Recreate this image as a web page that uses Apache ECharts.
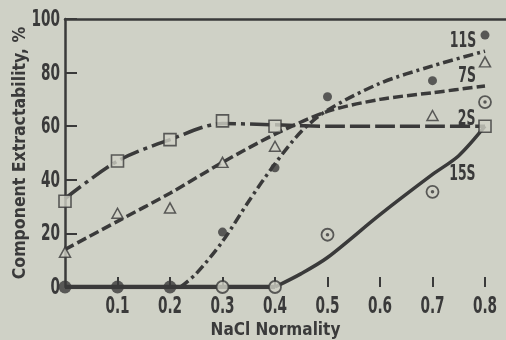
<!DOCTYPE html>
<html><head><meta charset="utf-8">
<script src="https://cdn.jsdelivr.net/npm/echarts@6/dist/echarts.min.js"></script>
<style>html,body{margin:0;padding:0;background:#cfd1c6}#c{width:506px;height:340px}</style>
</head><body><div id="c"></div>
<script>
// Tick labels
const xTicks = [0.1, 0.2, 0.3, 0.4, 0.5, 0.6, 0.7, 0.8];
const xTickLabels = ['0.1', '0.2', '0.3', '0.4', '0.5', '0.6', '0.7', '0.8'];
const yTicks = [0, 20, 40, 60, 80, 100];
const yTickLabels = ['0', '20', '40', '60', '80', '100'];

// Fitted curves  [NaCl normality, extractability %]
const curve2S_a = [[0, 33], [0.1, 47], [0.2, 55], [0.3, 61], [0.4, 60.5]];
const curve2S_b = [[0.4, 60.5], [0.5, 60], [0.6, 60], [0.7, 60], [0.8, 60]];
const curve7S = [[0, 14], [0.1, 24.5], [0.2, 35], [0.3, 46.5], [0.4, 57], [0.5, 65.5], [0.6, 70], [0.7, 72.5], [0.8, 75]];
const curve11S = [[0.22, 0], [0.25, 5], [0.3, 17], [0.35, 32], [0.4, 46], [0.45, 58], [0.5, 66], [0.6, 76], [0.7, 82.5], [0.8, 88]];
const curve15S_zero = [[0, 0], [0.4, 0]];
const curve15S = [[0.4, 0], [0.45, 5], [0.5, 11], [0.6, 27], [0.7, 42], [0.75, 49], [0.8, 60]];

// Observed points
const points2S = [[0, 32], [0.1, 47], [0.2, 55], [0.3, 62], [0.4, 60], [0.8, 60]];
const points7S = [[0, 13], [0.1, 27.5], [0.2, 29.5], [0.3, 46.5], [0.4, 52.5], [0.7, 64], [0.8, 84]];
const points11S = [[0, 0], [0.1, 0], [0.2, 0], [0.3, 20.5], [0.4, 44.5], [0.5, 71], [0.7, 77], [0.8, 94]];
const points15S = [[0.3, 0], [0.4, 0], [0.5, 19.5], [0.7, 35.5], [0.8, 69]];

// Curve names and where they are written (data coordinates)
const names = ['2S', '7S', '11S', '15S'];
const nameSpots = [[0.765, 62.3], [0.766, 78.5], [0.758, 91.5], [0.757, 42]];

const BG = '#cfd1c6', INK = '#3a3a3a';
const COND = "'DejaVu Sans Condensed', 'DejaVu Sans', sans-serif";
const SQUEEZE = 0.66;

function curve(data, dash, width, extra) {
  return Object.assign({
    type: 'line', data: data, showSymbol: false, smooth: 0.3, silent: true, z: 2,
    lineStyle: { color: INK, width: width, type: dash, cap: 'butt' }
  }, extra || {});
}

const chart = echarts.init(document.getElementById('c'), null, { renderer: 'canvas' });
chart.setOption({
  animation: false,
  backgroundColor: BG,
  grid: { left: 65, right: 0, top: 19, bottom: 53, containLabel: false, outerBoundsMode: 'none' },
  xAxis: [{
    type: 'value', min: 0, max: 0.84, interval: 0.1,
    axisLine: { show: false },
    axisTick: { show: true, inside: true, length: 10, customValues: xTicks, lineStyle: { color: INK, width: 2 } },
    axisLabel: { show: false },
    splitLine: { show: false },
    name: 'NaCl Normality', nameLocation: 'middle', nameGap: 35,
    nameTextStyle: { color: INK, fontFamily: COND, fontWeight: 'bold', fontSize: 17, padding: [0, 20, 0, 0] }
  }, {
    type: 'value', position: 'top', min: 0, max: 0.84,
    axisLine: { show: true, lineStyle: { color: INK, width: 2.5 } },
    axisTick: { show: false }, axisLabel: { show: false }, splitLine: { show: false }
  }],
  yAxis: {
    type: 'value', min: 0, max: 100, interval: 20,
    axisLine: { show: true, lineStyle: { color: INK, width: 2.5 } },
    axisTick: { show: true, inside: true, length: 12, customValues: yTicks, lineStyle: { color: INK, width: 2 } },
    axisLabel: { show: false },
    splitLine: { show: false },
    name: 'Component Extractability, %', nameLocation: 'middle', nameGap: 36,
    nameTextStyle: { color: INK, fontFamily: COND, fontWeight: 'bold', fontSize: 17.5 }
  },
  series: [
    curve(curve2S_a, [20, 5, 4, 5], 3.5),
    curve(curve2S_b, [20, 5], 3.5),
    curve(curve7S, [10, 4], 3.5),
    curve(curve11S, [10, 4, 3, 4], 3.5),
    curve(curve15S_zero, 'solid', 4.5, { smooth: false }),
    curve(curve15S, 'solid', 3.5),
    { type: 'scatter', data: points2S, symbol: 'rect', symbolSize: 12, z: 5, silent: true,
      itemStyle: { color: BG, borderColor: INK, borderWidth: 1.6 } },
    { type: 'scatter', data: points7S, symbol: 'triangle', symbolSize: [11, 10], z: 5, silent: true,
      itemStyle: { color: BG, borderColor: INK, borderWidth: 1.5 } },
    { type: 'scatter', data: points11S, symbol: 'circle', symbolSize: v => (v[1] === 0 ? 13 : 9), z: 5, silent: true,
      itemStyle: { color: INK } },
    { type: 'scatter', data: points15S, symbol: 'circle', symbolSize: 12, z: 5, silent: true,
      itemStyle: { color: BG, borderColor: INK, borderWidth: 1.8 } },
    { type: 'scatter', data: points15S.filter(p => p[1] > 0), symbol: 'circle', symbolSize: 3.5, z: 6, silent: true,
      itemStyle: { color: INK } }
  ]
});

// Condensed-bold text (tick labels and curve names), placed through the axes' own scales
function squeezedText(text, x, y, align, vAlign, size) {
  return {
    type: 'text', x: x, y: y, scaleX: SQUEEZE, silent: true, z: 10,
    style: { text: text, fill: INK, font: 'bold ' + size + 'px ' + COND, align: align, verticalAlign: vAlign }
  };
}
const g = [];
const yAxisX = chart.convertToPixel({ xAxisIndex: 0 }, 0);
const zeroY = chart.convertToPixel({ yAxisIndex: 0 }, 0);
xTicks.forEach((v, i) => {
  g.push(squeezedText(xTickLabels[i], chart.convertToPixel({ xAxisIndex: 0 }, v), zeroY + 9, 'center', 'top', 23));
});
yTicks.forEach((v, i) => {
  g.push(squeezedText(yTickLabels[i], yAxisX - 5, chart.convertToPixel({ yAxisIndex: 0 }, v) + 1, 'right', 'middle', 23));
});
names.forEach((n, i) => {
  const p = chart.convertToPixel({ xAxisIndex: 0, yAxisIndex: 0 }, nameSpots[i]);
  g.push(squeezedText(n, p[0], p[1], 'center', 'middle', 21));
});
chart.setOption({ graphic: { elements: g } });
</script>
</body></html>
